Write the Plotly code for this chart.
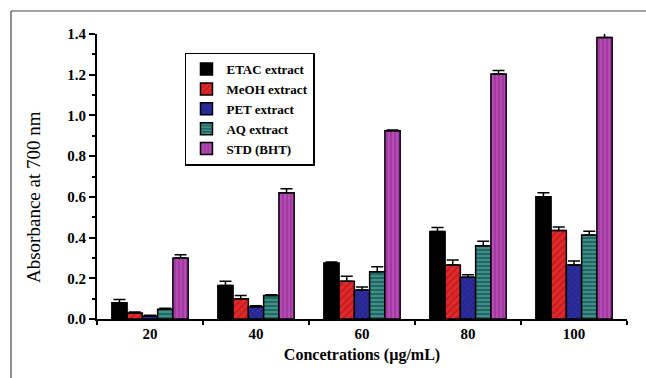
import plotly.graph_objects as go

concentrations = [20, 40, 60, 80, 100]
series_names = ["ETAC extract", "MeOH extract", "PET extract", "AQ extract", "STD (BHT)"]
etac = [0.08, 0.165, 0.275, 0.43, 0.60]
meoh = [0.03, 0.10, 0.185, 0.265, 0.435]
pet = [0.015, 0.06, 0.142, 0.205, 0.265]
aq = [0.048, 0.115, 0.232, 0.36, 0.413]
std = [0.30, 0.62, 0.925, 1.203, 1.383]
etac_err = [0.016, 0.02, 0.005, 0.02, 0.02]
meoh_err = [0.005, 0.016, 0.025, 0.025, 0.017]
pet_err = [0.003, 0.005, 0.015, 0.012, 0.02]
aq_err = [0.005, 0.004, 0.025, 0.022, 0.018]
std_err = [0.016, 0.02, 0.004, 0.018, 0.022]

values = [etac, meoh, pet, aq, std]
errors = [etac_err, meoh_err, pet_err, aq_err, std_err]
styles = [
    dict(color="#000000", pattern=dict(shape="")),
    dict(color="#e2282a", pattern=dict(shape="/", fgcolor="#8e1010", size=5, solidity=0.3)),
    dict(color="#2c2c9e", pattern=dict(shape="x", fgcolor="#16165e", size=4, solidity=0.3)),
    dict(color="#1c6a66", pattern=dict(shape="-", fgcolor="#a8dccc", size=4, solidity=0.3)),
    dict(color="#b64ab6", pattern=dict(shape="|", fgcolor="#6e1a6e", size=4, solidity=0.3)),
]

serif = "Liberation Serif"
fig = go.Figure()
for name, vals, errs, st in zip(series_names, values, errors, styles):
    fig.add_trace(go.Bar(
        x=concentrations, y=vals, name=name,
        marker=dict(color=st["color"], pattern=st["pattern"],
                    line=dict(color="#000000", width=1.5)),
        error_y=dict(type="data", array=errs, arrayminus=[0] * len(errs),
                     symmetric=False, color="#000000", thickness=1.5, width=6),
        cliponaxis=False,
    ))

fig.update_layout(
    width=646, height=378,
    margin=dict(l=97, r=19, t=34, b=59),
    paper_bgcolor="white", plot_bgcolor="white",
    barmode="group", bargap=0.28, bargroupgap=0,
    font=dict(family=serif, color="#000000"),
    legend=dict(
        x=0.166, y=0.935, xanchor="left", yanchor="top",
        bordercolor="#000000", borderwidth=1.5, bgcolor="white",
        font=dict(family=serif, size=13, weight="bold"),
        tracegroupgap=0, itemwidth=30,
    ),
    xaxis=dict(
        range=[10, 110], tickvals=concentrations, ticktext=[str(c) for c in concentrations],
        ticks="", showgrid=False, zeroline=False,
        showline=True, linecolor="#000000", linewidth=2,
        tickfont=dict(family=serif, size=15, weight="bold"),
        minor=dict(tick0=10, dtick=20, ticks="outside", ticklen=4, tickwidth=2, tickcolor="#000000", showgrid=False),
        title=dict(text="Concetrations (µg/mL)", font=dict(family=serif, size=16, weight="bold"), standoff=8),
    ),
    yaxis=dict(
        range=[0, 1.4], tick0=0, dtick=0.2, tickformat=".1f",
        ticks="outside", ticklen=6, tickwidth=1.5, tickcolor="#000000",
        showgrid=False, zeroline=False,
        showline=True, linecolor="#000000", linewidth=2,
        tickfont=dict(family=serif, size=15, weight="bold"),
        minor=dict(dtick=0.1, ticks="outside", ticklen=3, tickwidth=1.5, tickcolor="#000000", showgrid=False),
    ),
    annotations=[dict(text="Absorbance at 700 nm", textangle=-90, xref="paper", yref="paper",
                      x=-0.1208, y=0.428, xanchor="center", yanchor="middle", showarrow=False,
                      font=dict(family=serif, size=19))],
    shapes=[
        dict(type="line", xref="paper", yref="paper", x0=-0.1623, x1=-0.1623, y0=-0.3, y1=1.0807,
             line=dict(color="#444444", width=1.2), layer="below"),
        dict(type="line", xref="paper", yref="paper", x0=-0.1623, x1=1.06, y0=1.0807, y1=1.0807,
             line=dict(color="#444444", width=1.2), layer="below"),
    ],
)

fig.write_html("out.html")
